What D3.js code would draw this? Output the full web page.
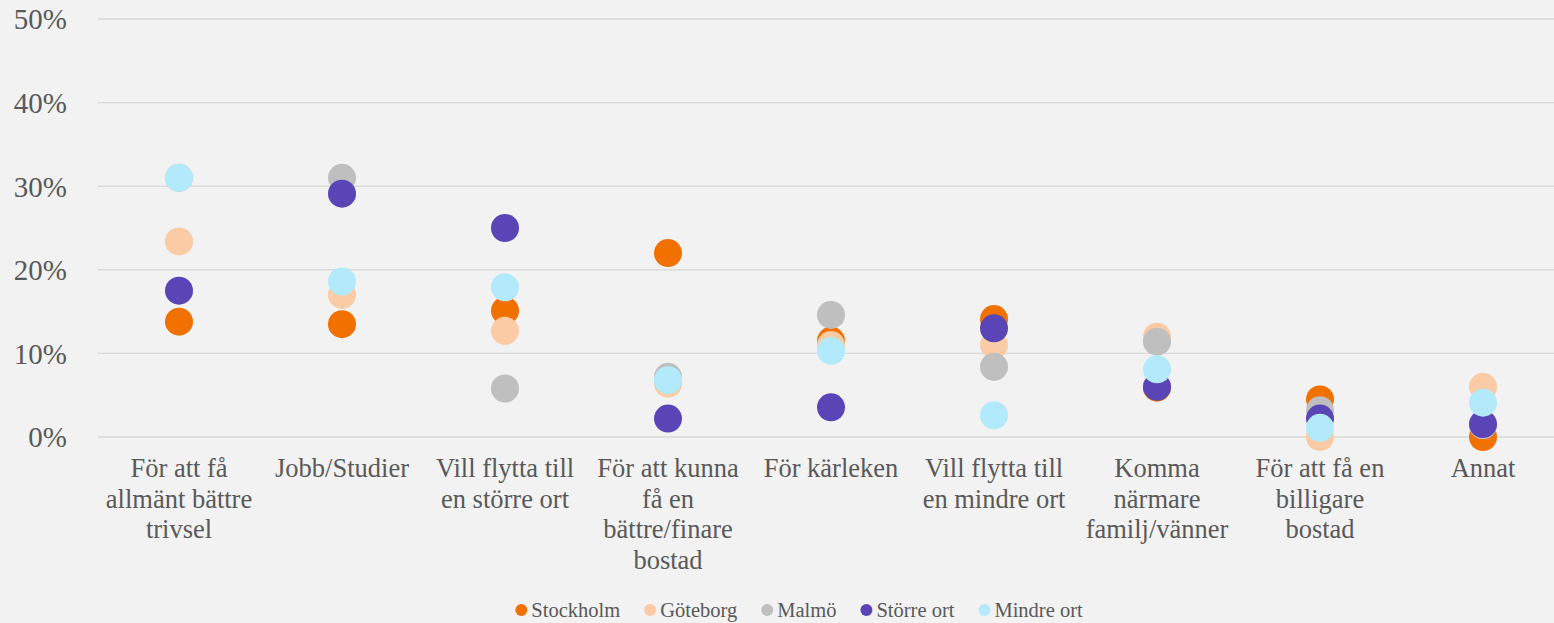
<!DOCTYPE html>
<html>
<head>
<meta charset="utf-8">
<script src="https://cdn.jsdelivr.net/npm/d3@7"></script>
<style>
html,body{margin:0;padding:0;background:#F2F2F2;}
svg{display:block;}
</style>
</head>
<body>
<svg id="chart" width="1554" height="623"></svg>
<script>
const categories = [
  ["För att få", "allmänt bättre", "trivsel"],
  ["Jobb/Studier"],
  ["Vill flytta till", "en större ort"],
  ["För att kunna", "få en", "bättre/finare", "bostad"],
  ["För kärleken"],
  ["Vill flytta till", "en mindre ort"],
  ["Komma", "närmare", "familj/vänner"],
  ["För att få en", "billigare", "bostad"],
  ["Annat"]
];
const seriesNames = ["Stockholm", "Göteborg", "Malmö", "Större ort", "Mindre ort"];
const seriesColors = ["#F07100", "#FACBA4", "#BFBFBF", "#5A45B7", "#B3EAFB"];
const stockholm = [13.8, 13.5, 15.1, 22.0, 11.5, 14.1, 5.9, 4.5, 0.0];
const goteborg  = [23.4, 17.0, 12.7, 6.4, 11.0, 11.0, 12.0, 0.0, 6.0];
const malmo     = [31.0, 31.0, 5.8, 7.2, 14.6, 8.4, 11.4, 3.2, 1.4];
const storre    = [17.5, 29.1, 25.0, 2.2, 3.55, 13.0, 6.0, 2.2, 1.55];
const mindre    = [31.0, 18.6, 17.9, 6.8, 10.3, 2.6, 8.1, 1.1, 4.1];
const yTicks = [0, 10, 20, 30, 40, 50];

const seriesValues = [stockholm, goteborg, malmo, storre, mindre];
const svg = d3.select("#chart");
const textColor = "#595959";
const fontFam = "'Liberation Serif','Times New Roman',serif";

const x = d3.scaleBand().domain(d3.range(categories.length)).range([97.5, 1564.5]).paddingInner(0).paddingOuter(0);
const y = d3.scaleLinear().domain([0, 50]).range([437, 19]);

// gridlines
svg.append("g").selectAll("line").data(yTicks).join("line")
  .attr("x1", 98).attr("x2", 1554)
  .attr("y1", d => y(d)).attr("y2", d => y(d))
  .attr("stroke", "#D9D9D9").attr("stroke-width", 1.4);

// y axis labels
const yAxis = d3.axisLeft(y).tickValues(yTicks).tickFormat(d => d + "%").tickSize(0).tickPadding(0);
const yg = svg.append("g").attr("transform", "translate(67,0)").call(yAxis);
yg.select(".domain").remove();
yg.selectAll("text").attr("fill", textColor).style("font-family", fontFam).style("font-size", "29px").attr("dy", "0.34em");

// x axis labels
const xAxis = d3.axisBottom(x).tickFormat("").tickSize(0);
const xg = svg.append("g").attr("transform", "translate(0,437)").call(xAxis);
xg.select(".domain").remove();
xg.selectAll(".tick").each(function(d) {
  const t = d3.select(this).append("text")
    .attr("text-anchor", "middle").attr("fill", textColor)
    .style("font-family", fontFam).style("font-size", "26.5px");
  categories[d].forEach((line, i) => {
    t.append("tspan").attr("x", 0).attr("y", 40 + i * 30.5).text(line);
  });
});

// dots
seriesValues.forEach((vals, si) => {
  svg.append("g").selectAll("circle").data(vals).join("circle")
    .attr("cx", (d, i) => x(i) + x.bandwidth() / 2)
    .attr("cy", d => y(d))
    .attr("r", 14)
    .attr("fill", seriesColors[si]);
});

// legend
const lg = svg.append("g");
let cx = 0;
seriesNames.forEach((name, i) => {
  const g = lg.append("g");
  g.append("circle").attr("cx", 6).attr("cy", 0).attr("r", 6).attr("fill", seriesColors[i]);
  const t = g.append("text").attr("x", 16).attr("y", 0).attr("dy", "0.35em")
    .attr("fill", textColor).style("font-family", fontFam).style("font-size", "20.5px").text(name);
  const w = 16 + t.node().getComputedTextLength();
  g.attr("transform", `translate(${cx},0)`);
  cx += w + 24;
});
const totalW = cx - 24;
lg.attr("transform", `translate(${799 - totalW / 2},610)`);
</script>
</body>
</html>
